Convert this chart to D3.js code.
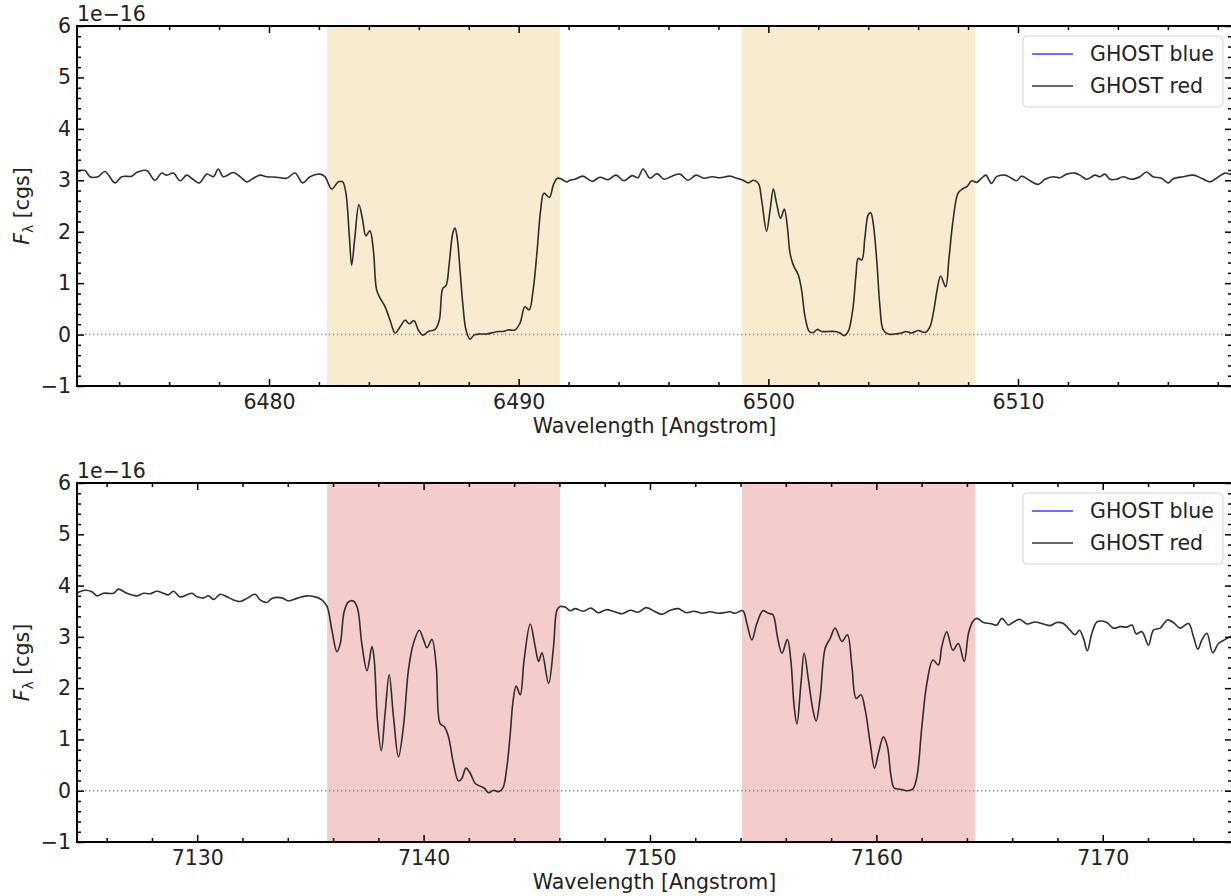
<!DOCTYPE html>
<html>
<head>
<meta charset="utf-8">
<script src="https://cdn.jsdelivr.net/npm/d3@7"></script>
<style>
  body { margin: 0; background: #fff; }
  svg { display: block; }
  text { font-family: "DejaVu Sans", sans-serif; fill: #222; }
</style>
</head>
<body>
<svg id="chart" width="1231" height="896"></svg>
<script>
// ---- data (flux in units of 1e-16 cgs) ----
const legendLabels = ["GHOST blue", "GHOST red"];
const yTicks = [-1, 0, 1, 2, 3, 4, 5, 6];
const xTicksA = [6480, 6490, 6500, 6510];
const xTicksB = [7130, 7140, 7150, 7160, 7170];
const bandsA = [[6482.32, 6491.65], [6498.94, 6508.27]];
const bandsB = [[7135.74, 7146.03], [7154.07, 7164.36]];

// GHOST red arm, 6472-6519 Angstrom
const specA = [
  [6472.30,3.17],[6472.63,3.19],[6472.83,3.07],[6473.15,3.07],[6473.43,3.17],[6473.83,2.95],
  [6474.10,3.07],[6474.50,3.08],[6474.70,3.15],[6475.10,3.19],[6475.43,3.00],[6475.70,3.14],
  [6475.90,3.10],[6476.17,3.14],[6476.44,2.99],[6476.70,3.10],[6476.90,3.04],[6477.21,2.95],
  [6477.51,3.12],[6477.77,3.07],[6477.97,3.22],[6478.17,3.07],[6478.57,3.15],[6478.84,3.07],
  [6479.11,2.97],[6479.37,3.04],[6479.64,3.10],[6479.91,3.07],[6480.31,3.06],[6480.71,3.04],
  [6481.04,3.14],[6481.35,2.95],[6481.64,3.07],[6482.04,3.12],[6482.24,3.07],[6482.51,2.83],
  [6482.78,2.97],[6482.95,2.97],[6483.08,2.75],[6483.22,1.90],[6483.31,1.35],[6483.44,1.90],
  [6483.60,2.53],[6483.75,2.23],[6483.88,1.92],[6484.04,2.02],[6484.18,1.64],[6484.31,0.87],
  [6484.45,0.71],[6484.65,0.54],[6484.85,0.28],[6485.05,0.03],[6485.25,0.15],[6485.45,0.28],
  [6485.62,0.21],[6485.81,0.27],[6485.98,0.09],[6486.16,-0.01],[6486.38,0.06],[6486.65,0.10],
  [6486.82,0.28],[6486.96,0.90],[6487.09,0.95],[6487.22,1.39],[6487.36,1.97],[6487.45,2.07],
  [6487.54,1.87],[6487.65,1.26],[6487.76,0.61],[6487.89,0.09],[6488.05,-0.09],[6488.21,-0.01],
  [6488.45,0.01],[6488.72,0.01],[6488.98,0.04],[6489.18,0.06],[6489.38,0.06],[6489.58,0.09],
  [6489.85,0.09],[6490.05,0.22],[6490.25,0.54],[6490.42,0.48],[6490.58,0.87],[6490.74,1.64],
  [6490.88,2.42],[6491.01,2.75],[6491.23,2.67],[6491.39,2.91],[6491.55,3.04],[6491.72,3.02],
  [6491.92,2.97],[6492.05,3.00],[6492.25,3.02],[6492.57,3.08],[6492.94,2.98],[6493.26,3.06],
  [6493.58,3.01],[6493.90,3.10],[6494.22,2.99],[6494.54,3.09],[6494.78,3.05],[6494.98,3.22],
  [6495.26,3.04],[6495.54,3.13],[6495.82,3.02],[6496.14,3.08],[6496.46,3.12],[6496.78,3.00],
  [6497.10,3.10],[6497.42,3.04],[6497.74,3.07],[6498.06,3.05],[6498.46,3.08],[6498.73,3.04],
  [6498.99,3.00],[6499.20,2.95],[6499.40,3.00],[6499.60,2.94],[6499.73,2.62],[6499.93,2.01],
  [6500.07,2.42],[6500.20,2.83],[6500.33,2.55],[6500.49,2.26],[6500.64,2.44],[6500.76,2.10],
  [6500.87,1.58],[6501.00,1.35],[6501.20,1.16],[6501.33,0.87],[6501.47,0.35],[6501.64,0.06],
  [6501.80,0.04],[6501.96,0.10],[6502.13,0.06],[6502.40,0.06],[6502.67,0.06],[6502.87,0.03],
  [6503.04,-0.02],[6503.20,0.06],[6503.38,0.48],[6503.51,1.16],[6503.60,1.48],[6503.74,1.45],
  [6503.87,1.90],[6504.00,2.33],[6504.10,2.37],[6504.20,2.16],[6504.34,1.45],[6504.47,0.54],
  [6504.60,0.09],[6504.80,0.01],[6505.07,0.01],[6505.34,0.03],[6505.51,0.06],[6505.74,0.03],
  [6506.00,0.08],[6506.27,0.04],[6506.47,0.15],[6506.63,0.48],[6506.76,0.87],[6506.90,1.14],
  [6507.10,0.93],[6507.24,1.51],[6507.40,2.23],[6507.60,2.75],[6507.80,2.84],[6507.96,2.88],
  [6508.14,2.99],[6508.34,2.96],[6508.54,3.04],[6508.71,3.10],[6508.94,2.94],[6509.14,3.07],
  [6509.48,3.10],[6509.74,3.04],[6509.94,2.99],[6510.14,3.08],[6510.48,2.99],[6510.81,2.92],
  [6511.08,3.02],[6511.41,3.07],[6511.68,3.05],[6511.95,3.12],[6512.28,3.14],[6512.48,3.10],
  [6512.75,3.02],[6513.08,3.10],[6513.28,3.07],[6513.48,3.12],[6513.68,3.02],[6513.95,3.02],
  [6514.21,3.07],[6514.55,3.02],[6514.88,3.07],[6515.15,3.16],[6515.41,3.07],[6515.75,3.04],
  [6516.01,2.95],[6516.22,3.03],[6516.62,3.07],[6517.02,3.10],[6517.35,3.04],[6517.69,2.97],
  [6517.95,3.04],[6518.29,3.14],[6518.57,3.10]
];

// GHOST red arm, 7124-7176 Angstrom
const specB = [
  [7124.69,3.86],[7125.05,3.91],[7125.35,3.88],[7125.57,3.80],[7125.86,3.85],[7126.30,3.85],
  [7126.52,3.93],[7126.89,3.85],[7127.34,3.80],[7127.63,3.85],[7127.92,3.84],[7128.22,3.89],
  [7128.51,3.85],[7128.73,3.82],[7128.95,3.89],[7129.25,3.78],[7129.55,3.82],[7129.77,3.85],
  [7129.99,3.78],[7130.28,3.76],[7130.50,3.80],[7130.72,3.73],[7131.02,3.83],[7131.31,3.78],
  [7131.60,3.72],[7131.90,3.69],[7132.20,3.75],[7132.56,3.83],[7132.78,3.72],[7133.08,3.67],
  [7133.30,3.75],[7133.74,3.76],[7134.03,3.70],[7134.40,3.75],[7134.85,3.80],[7135.29,3.77],
  [7135.50,3.72],[7135.73,3.60],[7135.95,3.13],[7136.17,2.71],[7136.32,2.87],[7136.49,3.49],
  [7136.68,3.68],[7136.90,3.70],[7137.08,3.56],[7137.27,2.87],[7137.50,2.34],[7137.72,2.81],
  [7137.82,2.55],[7137.96,1.38],[7138.13,0.78],[7138.30,1.51],[7138.48,2.26],[7138.67,1.44],
  [7138.89,0.66],[7139.11,1.25],[7139.33,2.35],[7139.55,2.87],[7139.81,3.13],[7140.00,2.94],
  [7140.15,2.79],[7140.37,2.95],[7140.56,2.42],[7140.73,1.31],[7140.91,1.25],[7141.10,1.05],
  [7141.32,0.53],[7141.54,0.19],[7141.69,0.24],[7141.87,0.44],[7142.06,0.34],[7142.28,0.14],
  [7142.50,0.09],[7142.68,0.05],[7142.87,-0.04],[7143.09,0.01],[7143.31,-0.02],[7143.50,0.05],
  [7143.68,0.47],[7143.83,1.12],[7143.94,1.70],[7144.09,2.04],[7144.27,1.87],[7144.44,2.55],
  [7144.71,3.25],[7144.93,2.81],[7145.08,2.52],[7145.23,2.69],[7145.52,2.09],[7145.74,2.81],
  [7145.89,3.52],[7146.03,3.59],[7146.25,3.58],[7146.48,3.51],[7146.70,3.55],[7147.05,3.50],
  [7147.40,3.56],[7147.71,3.47],[7148.07,3.53],[7148.42,3.49],[7148.77,3.45],[7149.13,3.52],
  [7149.48,3.48],[7149.83,3.57],[7150.19,3.50],[7150.54,3.44],[7150.89,3.52],[7151.25,3.55],
  [7151.60,3.47],[7151.95,3.50],[7152.31,3.46],[7152.66,3.49],[7153.01,3.46],[7153.37,3.48],
  [7153.54,3.49],[7153.76,3.46],[7154.10,3.51],[7154.28,3.26],[7154.50,2.94],[7154.72,3.26],
  [7154.99,3.51],[7155.23,3.46],[7155.43,3.43],[7155.63,3.00],[7155.83,2.68],[7156.07,2.95],
  [7156.22,2.55],[7156.37,1.64],[7156.49,1.30],[7156.67,2.09],[7156.81,2.68],[7157.00,2.16],
  [7157.20,1.57],[7157.34,1.36],[7157.52,1.83],[7157.74,2.78],[7157.96,2.97],[7158.18,3.17],
  [7158.48,2.91],[7158.72,3.04],[7158.92,2.42],[7159.11,1.80],[7159.32,1.87],[7159.51,1.57],
  [7159.73,0.92],[7159.92,0.44],[7160.09,0.73],[7160.31,1.05],[7160.49,0.86],[7160.64,0.31],
  [7160.79,0.05],[7161.05,0.03],[7161.35,0.00],[7161.61,0.03],[7161.79,0.27],[7162.01,1.25],
  [7162.23,2.09],[7162.50,2.55],[7162.74,2.45],[7162.89,2.81],[7163.11,3.10],[7163.38,2.74],
  [7163.62,2.87],[7163.88,2.52],[7164.07,3.07],[7164.26,3.30],[7164.44,3.36],[7164.73,3.28],
  [7165.03,3.26],[7165.32,3.23],[7165.54,3.36],[7165.84,3.23],[7166.06,3.29],[7166.35,3.34],
  [7166.65,3.25],[7167.01,3.29],[7167.38,3.25],[7167.68,3.22],[7167.97,3.28],[7168.26,3.26],
  [7168.56,3.13],[7168.78,3.04],[7168.97,3.13],[7169.15,2.97],[7169.32,2.73],[7169.52,3.07],
  [7169.74,3.29],[7169.96,3.31],[7170.18,3.28],[7170.47,3.17],[7170.77,3.20],[7171.06,3.19],
  [7171.29,3.23],[7171.48,3.06],[7171.73,3.10],[7172.02,2.84],[7172.24,3.13],[7172.54,3.17],
  [7172.86,3.33],[7173.12,3.28],[7173.42,3.17],[7173.79,3.26],[7174.01,3.00],[7174.20,2.76],
  [7174.38,2.94],[7174.60,3.07],[7174.86,2.69],[7175.11,2.87],[7175.41,2.95],[7175.71,3.02]
];

// ---- layout ----
const left = 77, right = 1232;
const fontPx = 20.5;
const panels = [
  { top: 26,  bottom: 386, domain: [6472.31, 6518.57], ticks: xTicksA, bands: bandsA, spec: specA, fill: "#f9ebd0" },
  { top: 483, bottom: 842, domain: [7124.69, 7175.71], ticks: xTicksB, bands: bandsB, spec: specB, fill: "#f4cccc" }
];

const svg = d3.select("#chart");

panels.forEach(p => {
  const x = d3.scaleLinear().domain(p.domain).range([left, right]);
  const y = d3.scaleLinear().domain([-1, 6]).range([p.bottom, p.top]);
  const g = svg.append("g");

  const clipId = "clip" + p.top;
  svg.append("clipPath").attr("id", clipId)
    .append("rect").attr("x", left).attr("y", p.top)
    .attr("width", right - left).attr("height", p.bottom - p.top);

  const plot = g.append("g").attr("clip-path", `url(#${clipId})`);

  // shaded spectral windows
  plot.selectAll("rect.band").data(p.bands).join("rect")
    .attr("class", "band")
    .attr("x", d => x(d[0])).attr("width", d => x(d[1]) - x(d[0]))
    .attr("y", p.top).attr("height", p.bottom - p.top)
    .attr("fill", p.fill);

  // zero level
  plot.append("line")
    .attr("x1", left).attr("x2", right)
    .attr("y1", y(0)).attr("y2", y(0))
    .attr("stroke", "#8c8c8c").attr("stroke-width", 1.4)
    .attr("stroke-dasharray", "1.4,2.6");

  // spectrum
  const line = d3.line().x(d => x(d[0])).y(d => y(d[1])).curve(d3.curveCatmullRom.alpha(0.5));
  plot.append("path").datum(p.spec)
    .attr("d", line)
    .attr("fill", "none").attr("stroke", "#2e2e2e").attr("stroke-width", 1.6);

  // axes: ticks inward on all four sides
  const xMinor = d3.range(Math.ceil(p.domain[0] / 2) * 2, p.domain[1], 2).filter(v => v % 10 !== 0);
  const yMinor = d3.range(-10, 60, 2).map(v => v / 10).filter(v => !yTicks.includes(v));

  const styleAxis = sel => {
    sel.select(".domain").remove();
    sel.selectAll(".tick line").attr("stroke", "#000").attr("stroke-width", 1.5);
    sel.selectAll(".tick text").attr("font-size", fontPx).attr("fill", "#222")
      .attr("font-family", "DejaVu Sans, sans-serif");
  };

  g.append("g").attr("transform", `translate(0,${p.bottom})`)
    .call(d3.axisBottom(x).tickValues(p.ticks).tickSize(-7).tickPadding(8).tickFormat(d3.format("d")))
    .call(styleAxis);
  g.append("g").attr("transform", `translate(0,${p.bottom})`)
    .call(d3.axisBottom(x).tickValues(xMinor).tickSize(-4).tickFormat(""))
    .call(styleAxis);
  g.append("g").attr("transform", `translate(0,${p.top})`)
    .call(d3.axisTop(x).tickValues(p.ticks).tickSize(-7).tickFormat(""))
    .call(styleAxis);
  g.append("g").attr("transform", `translate(0,${p.top})`)
    .call(d3.axisTop(x).tickValues(xMinor).tickSize(-4).tickFormat(""))
    .call(styleAxis);

  g.append("g").attr("transform", `translate(${left},0)`)
    .call(d3.axisLeft(y).tickValues(yTicks).tickSize(-7).tickPadding(6)
      .tickFormat(d => d < 0 ? "\u2212" + Math.abs(d) : String(d)))
    .call(styleAxis);
  g.append("g").attr("transform", `translate(${left},0)`)
    .call(d3.axisLeft(y).tickValues(yMinor).tickSize(-4).tickFormat(""))
    .call(styleAxis);
  g.append("g").attr("transform", `translate(${right},0)`)
    .call(d3.axisRight(y).tickValues(yTicks).tickSize(-7).tickFormat(""))
    .call(styleAxis);
  g.append("g").attr("transform", `translate(${right},0)`)
    .call(d3.axisRight(y).tickValues(yMinor).tickSize(-4).tickFormat(""))
    .call(styleAxis);

  // frame
  g.append("rect")
    .attr("x", left).attr("y", p.top)
    .attr("width", right - left).attr("height", p.bottom - p.top)
    .attr("fill", "none").attr("stroke", "#000").attr("stroke-width", 2);

  // scale factor
  g.append("text").attr("x", left).attr("y", p.top - 5)
    .attr("font-size", fontPx).text("1e\u221216");

  // axis titles
  g.append("text")
    .attr("x", (left + right) / 2).attr("y", p.bottom + 47)
    .attr("text-anchor", "middle").attr("font-size", fontPx)
    .text("Wavelength [Angstrom]");

  const yl = g.append("text")
    .attr("transform", `translate(29,${(p.top + p.bottom) / 2}) rotate(-90)`)
    .attr("text-anchor", "middle").attr("font-size", fontPx);
  yl.append("tspan").attr("font-style", "italic").text("F");
  yl.append("tspan").attr("font-size", 14).attr("dy", 4).text("\u03bb");
  yl.append("tspan").attr("dy", -4).text(" [cgs]");

  // legend
  const lg = g.append("g").attr("transform", `translate(1023,${p.top + 10})`);
  lg.append("rect").attr("width", 200).attr("height", 71).attr("rx", 4)
    .attr("fill", "#fff").attr("fill-opacity", 0.8)
    .attr("stroke", "#d4d4d4").attr("stroke-width", 1);
  const legendColors = ["#3b3bff", "#333"];
  legendLabels.forEach((lab, i) => {
    const ly = 18 + i * 32;
    lg.append("line").attr("x1", 9).attr("x2", 50).attr("y1", ly).attr("y2", ly)
      .attr("stroke", legendColors[i]).attr("stroke-width", 1.5);
    lg.append("text").attr("x", 67).attr("y", ly).attr("dy", "0.35em")
      .attr("font-size", fontPx).text(lab);
  });
});
</script>
</body>
</html>
